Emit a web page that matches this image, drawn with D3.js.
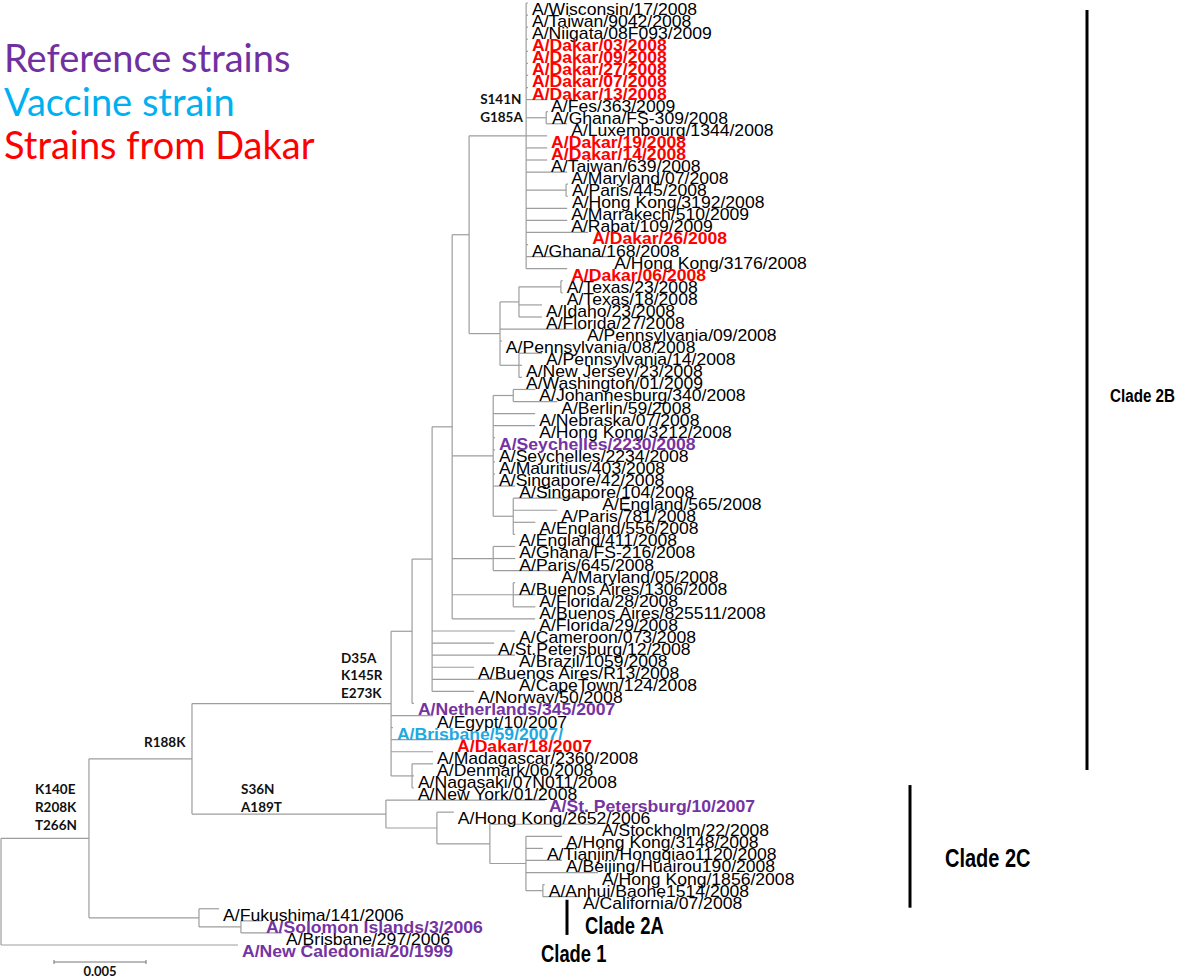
<!DOCTYPE html>
<html><head><meta charset="utf-8">
<script src="https://cdn.jsdelivr.net/npm/d3@7/dist/d3.min.js"></script>
<style>
html,body{margin:0;padding:0;background:#fff;}
svg{display:block;}
</style></head>
<body>
<script>
// ---------- DATA ----------
// Tree edges: [node, parent, branch length (substitutions/site)], listed in display order
const edges = [
 ["root","",0],
 ["A","root",0.00478],
 ["B","A",0.0056],
 ["E","B",0.01082],
 ["N4","E",0.00114],
 ["N3","N4",0.00109],
 ["N2","N3",0.00109],
 ["N1","N2",0.00092],
 ["P","N1",0.0031],
 ["A/Wisconsin/17/2008","P",0.0001],
 ["A/Taiwan/9042/2008","P",0.0001],
 ["A/Niigata/08F093/2009","P",0.0001],
 ["A/Dakar/03/2008","P",0.0001],
 ["A/Dakar/09/2008","P",0.0001],
 ["A/Dakar/27/2008","P",0.0001],
 ["A/Dakar/07/2008","P",0.0001],
 ["A/Dakar/13/2008","P",0.0001],
 ["A/Fes/363/2009","P",0.00114],
 ["Q","P",0.00109],
 ["A/Ghana/FS-309/2008","Q",0.0001],
 ["A/Luxembourg/1344/2008","Q",0.00114],
 ["A/Dakar/19/2008","P",0.00114],
 ["A/Dakar/14/2008","P",0.00114],
 ["A/Taiwan/639/2008","P",0.00114],
 ["A/Maryland/07/2008","P",0.00223],
 ["S","P",0.00217],
 ["A/Paris/445/2008","S",0.0001],
 ["A/Hong Kong/3192/2008","S",0.0001],
 ["A/Marrakech/510/2009","P",0.00223],
 ["A/Rabat/109/2009","P",0.00223],
 ["A/Dakar/26/2008","P",0.00337],
 ["A/Ghana/168/2008","P",0.0001],
 ["A/Hong Kong/3176/2008","P",0.00457],
 ["A/Dakar/06/2008","P",0.00223],
 ["T","N1",0.00168],
 ["U","T",0.00103],
 ["W","U",0.00228],
 ["A/Texas/23/2008","W",0.0001],
 ["A/Texas/18/2008","W",0.0001],
 ["A/Idaho/23/2008","U",0.00125],
 ["A/Florida/27/2008","U",0.00125],
 ["A/Pennsylvania/09/2008","T",0.00451],
 ["A/Pennsylvania/08/2008","T",0.0001],
 ["V","T",0.00103],
 ["A/Pennsylvania/14/2008","V",0.00125],
 ["A/New Jersey/23/2008","V",0.00016],
 ["A/Washington/01/2009","V",0.00016],
 ["Y","N2",0.00223],
 ["J","Y",0.00109],
 ["A/Johannesburg/340/2008","J",0.0012],
 ["A/Berlin/59/2008","J",0.00239],
 ["A/Nebraska/07/2008","Y",0.00228],
 ["A/Hong Kong/3212/2008","Y",0.00228],
 ["A/Seychelles/2230/2008","Y",0.0001],
 ["A/Seychelles/2234/2008","Y",0.0001],
 ["A/Mauritius/403/2008","Y",0.0001],
 ["A/Singapore/42/2008","Y",0.0001],
 ["A/Singapore/104/2008","Y",0.0012],
 ["Y2","Y",0.00109],
 ["A/England/565/2008","Y2",0.00462],
 ["A/Paris/781/2008","Y2",0.00239],
 ["A/England/556/2008","Y2",0.0012],
 ["A/England/411/2008","Y2",0.0001],
 ["K","N2",0.00223],
 ["A/Ghana/FS-216/2008","K",0.0012],
 ["A/Paris/645/2008","K",0.0012],
 ["A/Maryland/05/2008","K",0.00348],
 ["M","N2",0.00332],
 ["A/Buenos Aires/1306/2008","M",0.0001],
 ["A/Florida/28/2008","M",0.0012],
 ["A/Buenos Aires/825511/2008","M",0.0012],
 ["A/Florida/29/2008","N2",0.00451],
 ["A/Cameroon/073/2008","N3",0.00451],
 ["A/St.Petersburg/12/2008","N3",0.00337],
 ["A/Brazil/1059/2008","N3",0.00451],
 ["A/Buenos Aires/R13/2008","N3",0.00228],
 ["A/CapeTown/124/2008","N3",0.00451],
 ["A/Norway/50/2008","N3",0.00228],
 ["A/Netherlands/345/2007","N4",0.0001],
 ["A/Egypt/10/2007","E",0.00228],
 ["A/Brisbane/59/2007/","E",0.0001],
 ["A/Dakar/18/2007","E",0.00337],
 ["A/Madagascar/2360/2008","E",0.00228],
 ["F","E",0.00114],
 ["A/Denmark/06/2008","F",0.00114],
 ["A/Nagasaki/07N011/2008","F",0.0001],
 ["A/New York/01/2008","F",0.0001],
 ["G","B",0.01054],
 ["A/St. Petersburg/10/2007","G",0.00864],
 ["H","G",0.00277],
 ["A/Hong Kong/2652/2006","H",0.00092],
 ["I","H",0.00288],
 ["A/Stockholm/22/2008","I",0.00587],
 ["J2","I",0.00196],
 ["A/Hong Kong/3148/2008","J2",0.00196],
 ["A/Tianjin/Hongqiao1120/2008","J2",0.00092],
 ["A/Beijing/Huairou190/2008","J2",0.00196],
 ["A/Hong Kong/1856/2008","J2",0.00391],
 ["L","J2",0.00092],
 ["A/Anhui/Baohe1514/2008","L",0.0001],
 ["A/California/07/2008","L",0.00196],
 ["C","A",0.00598],
 ["A/Fukushima/141/2006","C",0.00109],
 ["D","C",0.00228],
 ["A/Solomon Islands/3/2006","D",0.00114],
 ["A/Brisbane/297/2006","D",0.00223],
 ["A/New Caledonia/20/1999","root",0.01288]
];

const dakarStrains = ["A/Dakar/03/2008","A/Dakar/09/2008","A/Dakar/27/2008","A/Dakar/07/2008","A/Dakar/13/2008",
  "A/Dakar/19/2008","A/Dakar/14/2008","A/Dakar/26/2008","A/Dakar/06/2008","A/Dakar/18/2007"];
const referenceStrains = ["A/Seychelles/2230/2008","A/Netherlands/345/2007","A/St. Petersburg/10/2007",
  "A/Solomon Islands/3/2006","A/New Caledonia/20/1999"];
const vaccineStrains = ["A/Brisbane/59/2007/"];

const mutations = [
  {node:"P", changes:["S141N","G185A"]},
  {node:"E", changes:["D35A","K145R","E273K"]},
  {node:"B", changes:["R188K"]},
  {node:"G", changes:["S36N","A189T"]},
  {node:"A", changes:["K140E","R208K","T266N"]}
];

const clades = [
  {name:"Clade 2B", from:"A/Wisconsin/17/2008", to:"A/Nagasaki/07N011/2008"},
  {name:"Clade 2C", from:"A/St. Petersburg/10/2007", to:"A/California/07/2008"},
  {name:"Clade 2A", from:"A/Fukushima/141/2006", to:"A/Brisbane/297/2006"},
  {name:"Clade 1", from:null, to:null}
];

const legendItems = ["Reference strains","Vaccine strain","Strains from Dakar"];
const scaleBarValue = 0.005;

// ---------- LAYOUT ----------
const W = 1200, H = 979;
const svg = d3.select("body").append("svg").attr("width", W).attr("height", H);

const root = d3.stratify().id(d => d[0]).parentId(d => d[1] || null)(edges);
root.eachBefore(n => { n.len = (n.parent ? n.parent.len : 0) + n.data[2]; });
const leaves = root.leaves();

const x = d3.scaleLinear().domain([0, scaleBarValue]).range([1, 93]);
const y = d3.scaleLinear().domain([0, leaves.length - 1]).range([3, 945]);

leaves.forEach((l, i) => { l.py = y(i); });
root.eachAfter(n => {
  if (n.children) n.py = (n.children[0].py + n.children[n.children.length - 1].py) / 2;
});
const byId = {};
root.each(n => byId[n.id] = n);

const lineColor = "#9d9d9d";
const g = svg.append("g");

// horizontal branches
g.selectAll("line.h").data(root.descendants().filter(n => n.parent)).join("line")
  .attr("x1", n => x(n.parent.len)).attr("x2", n => x(n.len))
  .attr("y1", n => n.py).attr("y2", n => n.py)
  .attr("stroke", lineColor).attr("stroke-width", 1.2);
// vertical connectors
g.selectAll("line.v").data(root.descendants().filter(n => n.children)).join("line")
  .attr("x1", n => x(n.len)).attr("x2", n => x(n.len))
  .attr("y1", n => n.children[0].py).attr("y2", n => n.children[n.children.length - 1].py)
  .attr("stroke", lineColor).attr("stroke-width", 1.2);

// leaf labels
function labelColor(name) {
  if (dakarStrains.includes(name)) return "#ff0000";
  if (referenceStrains.includes(name)) return "#7434a3";
  if (vaccineStrains.includes(name)) return "#1fa9e1";
  return "#000";
}
function isBold(name) {
  return dakarStrains.includes(name) || referenceStrains.includes(name) || vaccineStrains.includes(name);
}
g.selectAll("text.leaf").data(leaves).join("text")
  .attr("transform", n => `translate(${x(n.len) + 4},${n.py + 12}) scale(1.1,1)`)
  .attr("font-family", "'Liberation Sans', Arial, sans-serif")
  .attr("font-size", 16)
  .attr("font-weight", n => isBold(n.id) ? "bold" : "normal")
  .attr("fill", n => labelColor(n.id))
  .text(n => n.id);

// mutation annotations
const mutLayout = {
  P: {dx: n => x(n.len) - 46, dy: -32},
  E: {dx: n => x(n.len) - 50, dy: -41},
  B: {dx: n => x(n.len) - 48, dy: -12},
  G: {dx: n => x(n.parent.len) + 49, dy: -20},
  A: {dx: n => x(n.len) - 54, dy: -44}
};
mutations.forEach(m => {
  const n = byId[m.node], lay = mutLayout[m.node];
  m.changes.forEach((c, k) => {
    g.append("text")
      .attr("x", lay.dx(n)).attr("y", n.py + lay.dy + k * 17.8)
      .attr("font-family", "Lato, 'Open Sans', sans-serif")
      .attr("font-weight", "bold").attr("font-size", 13.5)
      .attr("fill", "#111").text(c);
  });
});

// legend
const legendColors = ["#7030a0", "#00b0f0", "#ff0000"];
legendItems.forEach((t, i) => {
  svg.append("text").attr("x", 4).attr("y", 72 + i * 43.5)
    .attr("font-family", "Lato, sans-serif").attr("font-size", 38)
    .attr("fill", legendColors[i]).text(t);
});

// clade bars & labels
const cladeLayout = {
  "Clade 2B": {bx: 1087, top: 7, bot: -6, tx: 1110, ty: 402, fs: 19},
  "Clade 2C": {bx: 910, top: -15, bot: 11, tx: 945, ty: 867, fs: 25},
  "Clade 2A": {bx: 567, top: -9, bot: 2, tx: 585, ty: 934, fs: 23},
  "Clade 1":  {tx: 541, ty: 962, fs: 23}
};
clades.forEach(c => {
  const L = cladeLayout[c.name];
  if (c.from) {
    svg.append("line").attr("x1", L.bx).attr("x2", L.bx)
      .attr("y1", byId[c.from].py + L.top).attr("y2", byId[c.to].py + L.bot)
      .attr("stroke", "#000").attr("stroke-width", 3);
  }
  svg.append("text").attr("transform", `translate(${L.tx},${L.ty}) scale(0.8,1)`)
    .attr("font-family", "'Liberation Sans', Arial, sans-serif").attr("font-weight", "bold")
    .attr("font-size", L.fs).attr("fill", "#000").text(c.name);
});

// scale bar
const sbY = 962, sbX0 = 54;
const sbLen = x(scaleBarValue) - x(0);
svg.append("line").attr("x1", sbX0).attr("x2", sbX0 + sbLen).attr("y1", sbY).attr("y2", sbY)
  .attr("stroke", "#777").attr("stroke-width", 1);
[sbX0, sbX0 + sbLen].forEach(xx => svg.append("line").attr("x1", xx).attr("x2", xx)
  .attr("y1", sbY - 2).attr("y2", sbY + 2).attr("stroke", "#777").attr("stroke-width", 1));
svg.append("text").attr("x", sbX0 + sbLen / 2).attr("y", 976).attr("text-anchor", "middle")
  .attr("font-family", "Lato, sans-serif").attr("font-weight", "bold").attr("font-size", 13)
  .attr("fill", "#111").text(String(scaleBarValue));
</script>
</body></html>
